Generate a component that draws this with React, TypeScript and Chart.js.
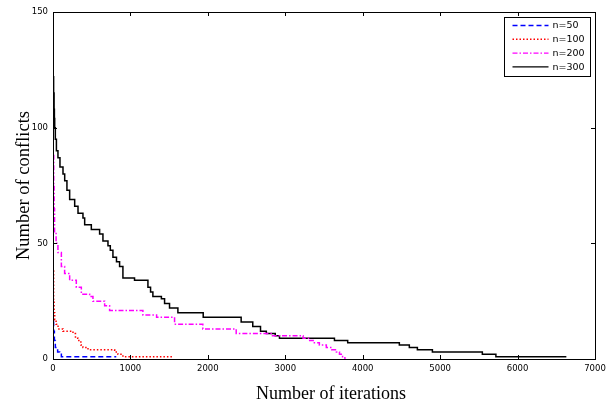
import React, { useEffect, useRef } from "react";
import { Chart, registerables } from "chart.js";

Chart.register(...registerables);

// ---- data ----
const seriesLabels = ["n=50", "n=100", "n=200", "n=300"];

const n50X = [0, 8, 18, 30, 60, 86, 108, 817];
const n50Y = [16, 12, 8, 5, 3, 2, 1, 1];

const n100X = [0, 8, 14, 22, 40, 65, 129, 258, 290, 323, 360, 387, 452, 796, 839, 903, 1560];
const n100Y = [38, 25, 20, 17, 15, 13, 12, 11, 9, 8, 6, 5, 4, 3, 2, 1, 1];

const n200X = [0, 10, 15, 20, 40, 64, 108, 150, 215, 301, 366, 473, 516, 667, 731, 1161, 1338, 1570, 1935, 2366, 2835, 3230, 3300, 3360, 3440, 3530, 3600, 3660, 3700, 3740, 3770];
const n200Y = [88, 75, 65, 55, 50, 46, 40, 37, 34, 31, 28, 27, 25, 23, 21, 19, 18, 15, 13, 11, 10, 9, 8, 7, 6, 5, 4, 3, 2, 1, 0];

const n300X = [0, 8, 14, 18, 22, 30, 44, 64, 90, 129, 151, 180, 215, 280, 323, 387, 409, 495, 602, 645, 710, 740, 774, 820, 860, 903, 1053, 1226, 1260, 1290, 1400, 1441, 1505, 1613, 1940, 2430, 2580, 2680, 2755, 2870, 2925, 3635, 3806, 4473, 4602, 4706, 4900, 5545, 5720, 6630];
const n300Y = [122, 115, 108, 104, 100, 95, 90, 87, 83, 80, 77, 73, 69, 66, 63, 61, 58, 56, 54, 51, 49, 47, 44, 42, 40, 35, 34, 31, 29, 27, 26, 24, 22, 20, 18, 16, 14, 12, 11, 10, 9, 8, 7, 6, 5, 4, 3, 2, 1, 1];

const xTicks = [0, 1000, 2000, 3000, 4000, 5000, 6000, 7000];
const yTicks = [0, 50, 100, 150];

const xTitle = "Number of iterations";
const yTitle = "Number of conflicts";

const colors = ["#0000ff", "#ff0000", "#ff00ff", "#000000"];
const dashes: number[][] = [[5, 3], [1.5, 2], [5, 2, 1.5, 2], []];

const toPoints = (xs: number[], ys: number[]) => xs.map((x, i) => ({ x, y: ys[i] }));

const frameAndLegend = {
  id: "frameAndLegend",
  afterDatasetsDraw(chart: any) {
    const { ctx, chartArea } = chart;
    const { left, right, top, bottom } = chartArea;
    const xs = chart.scales.x;
    const ys = chart.scales.y;
    ctx.save();
    ctx.strokeStyle = "#000";
    ctx.lineWidth = 1;
    ctx.setLineDash([]);
    // box
    ctx.strokeRect(Math.round(left) + 0.5, Math.round(top) + 0.5, Math.round(right - left), Math.round(bottom - top));
    // inward ticks
    const tl = 4;
    ctx.beginPath();
    xTicks.forEach((v) => {
      const px = Math.round(xs.getPixelForValue(v)) + 0.5;
      ctx.moveTo(px, bottom);
      ctx.lineTo(px, bottom - tl);
      ctx.moveTo(px, top);
      ctx.lineTo(px, top + tl);
    });
    yTicks.forEach((v) => {
      const py = Math.round(ys.getPixelForValue(v)) + 0.5;
      ctx.moveTo(left, py);
      ctx.lineTo(left + tl, py);
      ctx.moveTo(right, py);
      ctx.lineTo(right - tl, py);
    });
    ctx.stroke();

    // x axis title (slightly right of centre, as in the reference)
    ctx.fillStyle = "#000";
    ctx.font = "18px 'Liberation Serif'";
    ctx.textAlign = "center";
    ctx.textBaseline = "alphabetic";
    ctx.fillText(xTitle, (left + right) / 2 + 7, 399);

    // legend box
    const bw = 86;
    const bh = 59;
    const bx = Math.round(right - 5.5 - bw) + 0.5;
    const by = Math.round(top + 5) + 0.5;
    ctx.fillStyle = "#fff";
    ctx.fillRect(bx, by, bw, bh);
    ctx.strokeRect(bx, by, bw, bh);
    ctx.font = "9.5px 'DejaVu Sans'";
    ctx.textBaseline = "middle";
    ctx.textAlign = "left";
    chart.data.datasets.forEach((ds: any, i: number) => {
      const ry = by + 8 + i * 13.8;
      ctx.beginPath();
      ctx.strokeStyle = ds.borderColor;
      ctx.lineWidth = 1.4;
      ctx.setLineDash(ds.borderDash || []);
      ctx.moveTo(bx + 8, ry);
      ctx.lineTo(bx + 44, ry);
      ctx.stroke();
      ctx.setLineDash([]);
      ctx.fillStyle = "#000";
      ctx.fillText(ds.label, bx + 48, ry + 0.5);
    });
    ctx.restore();
  },
};

export default function App() {
  const ref = useRef<HTMLCanvasElement | null>(null);
  useEffect(() => {
    if (!ref.current) return;
    const allX = [n50X, n100X, n200X, n300X];
    const allY = [n50Y, n100Y, n200Y, n300Y];
    const chart = new Chart(ref.current, {
      type: "line",
      data: {
        datasets: seriesLabels.map((label, i) => ({
          label,
          data: toPoints(allX[i], allY[i]),
          borderColor: colors[i],
          backgroundColor: colors[i],
          borderDash: dashes[i],
          borderWidth: 1.5,
          pointRadius: 0,
          stepped: "before" as const,
          fill: false,
        })),
      },
      options: {
        animation: false,
        responsive: false,
        devicePixelRatio: 1,
        layout: { padding: { top: 12, right: 19, left: 0, bottom: 0 } },
        plugins: { legend: { display: false }, tooltip: { enabled: false } },
        scales: {
          x: {
            type: "linear",
            min: 0,
            max: 7000,
            afterFit: (s: any) => { s.height = 44; },
            afterBuildTicks: (s: any) => { s.ticks = xTicks.map((v) => ({ value: v })); },
            grid: { display: false, drawTicks: false },
            border: { display: false },
            ticks: { color: "#000", padding: 5, maxRotation: 0, callback: (v: any) => String(v), font: { family: "'DejaVu Sans'", size: 8.5 } },
            title: { display: false, text: xTitle },
          },
          y: {
            type: "linear",
            min: 0,
            max: 150,
            afterFit: (s: any) => { s.width = 53; },
            afterBuildTicks: (s: any) => { s.ticks = yTicks.map((v) => ({ value: v })); },
            grid: { display: false, drawTicks: false },
            border: { display: false },
            ticks: { color: "#000", padding: 5, callback: (v: any) => String(v), font: { family: "'DejaVu Sans'", size: 8.5 } },
            title: { display: true, text: yTitle, color: "#000", padding: { top: 14.5, bottom: 0 }, font: { family: "'Liberation Serif'", size: 18.5, lineHeight: 1 } },
          },
        },
      },
      plugins: [frameAndLegend],
    });
    return () => chart.destroy();
  }, []);
  return (
    <div style={{ position: "absolute", left: 0, top: 0, width: 614, height: 403, background: "#fff" }}>
      <canvas ref={ref} width={614} height={403} style={{ display: "block" }} />
    </div>
  );
}
